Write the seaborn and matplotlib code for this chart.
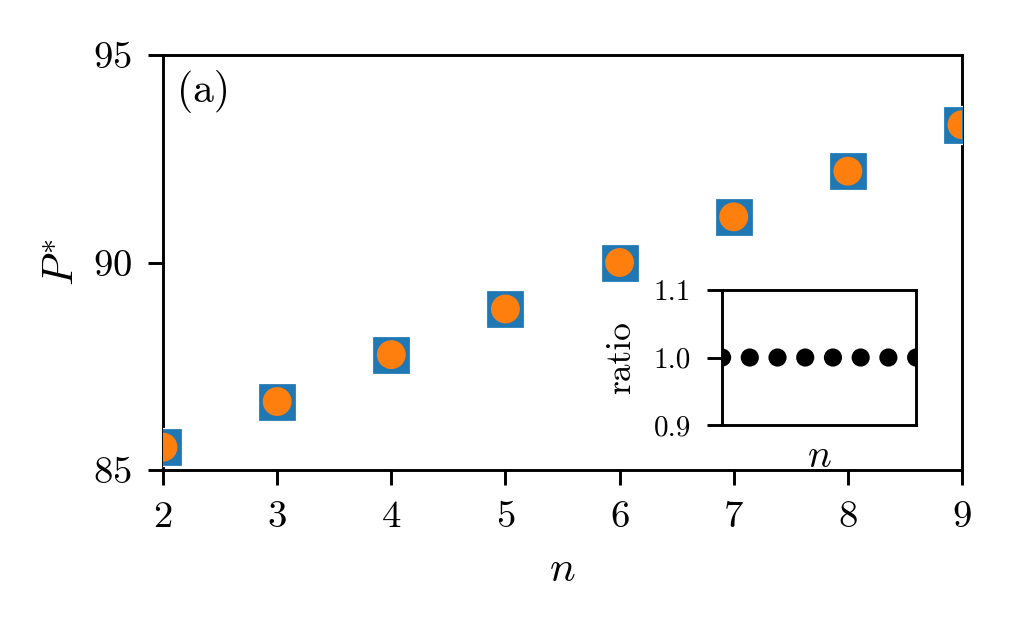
import numpy as np
import pandas as pd
import matplotlib
matplotlib.use("Agg")
import matplotlib.pyplot as plt
import seaborn as sns

# values
n_vals = [2, 3, 4, 5, 6, 7, 8, 9]
p_square = [85.55, 86.65, 87.78, 88.88, 90.0, 91.1, 92.2, 93.32]
p_circle = [85.55, 86.65, 87.78, 88.88, 90.0, 91.1, 92.2, 93.32]
ratio = [1.0, 1.0, 1.0, 1.0, 1.0, 1.0, 1.0, 1.0]

df = pd.DataFrame({"n": n_vals, "sq": p_square, "ci": p_circle, "ratio": ratio})

sns.set_style("ticks")
plt.rcParams["font.family"] = "serif"
plt.rcParams["font.serif"] = ["cmr10"]
plt.rcParams["mathtext.fontset"] = "cm"
plt.rcParams["axes.formatter.use_mathtext"] = True
plt.rcParams["axes.linewidth"] = 0.7
plt.rcParams["xtick.major.width"] = 0.7
plt.rcParams["ytick.major.width"] = 0.7
plt.rcParams["xtick.major.size"] = 3.5
plt.rcParams["ytick.major.size"] = 3.5
plt.rcParams["axes.edgecolor"] = "black"
plt.rcParams["xtick.color"] = "black"
plt.rcParams["ytick.color"] = "black"
plt.rcParams["text.color"] = "black"
plt.rcParams["axes.labelcolor"] = "black"

fig = plt.figure(figsize=(1017 / 300, 628 / 300), dpi=300)
ax = fig.add_axes([0.1603, 0.2516, 0.7856, 0.6608])

sns.scatterplot(data=df, x="n", y="sq", marker="s", s=85, color="#1f77b4",
                edgecolor="white", linewidth=0.3, ax=ax, zorder=3, clip_on=True)
sns.scatterplot(data=df, x="n", y="ci", marker="o", s=48, color="#ff7f0e",
                edgecolor="none", ax=ax, zorder=4)

ax.set_xlim(2, 9)
ax.set_ylim(85, 95)
ax.set_xticks(n_vals)
ax.set_yticks([85, 90, 95])
ax.tick_params(labelsize=9.3, pad=4)
ax.set_xlabel(r"$n$", fontsize=10.3, labelpad=4)
ax.set_ylabel(r"$P^{*}$", fontsize=10.3, labelpad=2.5)
ax.text(0.018, 0.965, "(a)", transform=ax.transAxes, fontsize=10, va="top", ha="left")
for sp in ax.spines.values():
    sp.set_visible(True)

# inset with the ratio
axin = fig.add_axes([0.710, 0.3232, 0.1908, 0.2150])
sns.scatterplot(data=df, x="n", y="ratio", marker="o", s=19, color="black",
                edgecolor="none", ax=axin, zorder=3)
axin.set_xlim(2, 9)
axin.set_ylim(0.9, 1.1)
axin.set_yticks([0.9, 1.0, 1.1])
axin.set_yticklabels(["0.9", "1.0", "1.1"])
axin.set_xticks([])
axin.tick_params(labelsize=7, pad=4)
axin.set_xlabel(r"$n$", fontsize=9.5, labelpad=3.5)
axin.set_ylabel("ratio", fontsize=8.5, labelpad=4)
for sp in axin.spines.values():
    sp.set_visible(True)

fig.savefig("out.png", dpi=300)
